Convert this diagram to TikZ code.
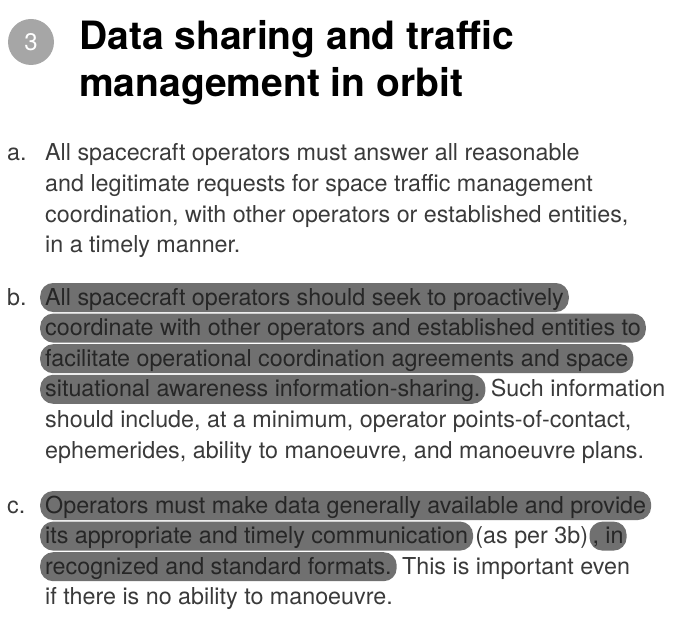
\documentclass[tikz,border=0pt]{standalone}
\usepackage{fontspec}
\setmainfont{TeX Gyre Heros}
\usepackage{tikz}
\usetikzlibrary{positioning}
\definecolor{ink}{HTML}{3A3A3A}
\definecolor{hlgray}{HTML}{707070}
\definecolor{badge}{HTML}{A6A6A6}
\tikzset{
  txt/.style={anchor=base west, inner sep=0pt, text=ink, font=\fontsize{23.3}{30}\selectfont},
  hl/.style={txt, fill=hlgray, text=black!85, rounded corners=13pt,
    text height=22pt, text depth=7pt, inner xsep=5pt, inner ysep=0pt},
  ttl/.style={anchor=base west, inner sep=0pt, font=\fontsize{39}{47}\bfseries\selectfont}
}
\begin{document}
\begin{tikzpicture}[x=1pt,y=-1pt]
  \useasboundingbox (0,0) rectangle (680,631);

  % heading
  \node[circle, fill=badge, minimum size=46pt, inner sep=0pt, text=white,
    font=\fontsize{24}{24}\selectfont] (badge) at (31,42) {3};
  \node[ttl] (title1) at (79,50) {Data sharing and traffic};
  \node[ttl] (title2) at (79,97) {management in orbit};

  % item a
  \node[txt] (la) at (7,161) {a.};
  \node[txt] (a1) at (45,161) {All spacecraft operators must answer all reasonable};
  \node[txt] (a2) at (45,191.6) {and legitimate requests for space traffic management};
  \node[txt] (a3) at (45,222.2) {coordination, with other operators or established entities,};
  \node[txt] (a4) at (45,252.8) {in a timely manner.};

  % item b
  \node[txt] (lb) at (7,305) {b.};
  \node[hl] (b1) at (40,305) {All spacecraft operators should seek to proactively};
  \node[hl] (b2) at (40,335.6) {coordinate with other operators and established entities to};
  \node[hl] (b3) at (40,366.2) {facilitate operational coordination agreements and space};
  \node[hl] (b4) at (40,396.8) {situational awareness information-sharing.};
  \node[txt] (b4r) at ([xshift=5pt]b4.base east) {Such information};
  \node[txt] (b5) at (45,427.4) {should include, at a minimum, operator points-of-contact,};
  \node[txt] (b6) at (45,458) {ephemerides, ability to manoeuvre, and manoeuvre plans.};

  % item c
  \node[txt] (lc) at (7,513) {c.};
  \node[hl] (c1) at (40,513) {Operators must make data generally available and provide};
  \node[hl] (c2) at (40,543.6) {its appropriate and timely communication};
  \node[txt] (c2m) at ([xshift=2pt]c2.base east) {(as per 3b)};
  \node[hl, inner xsep=3pt] (c2r) at ([xshift=1pt]c2m.base east) {, in};
  \node[hl] (c3) at (40,574.2) {recognized and standard formats.};
  \node[txt] (c3r) at ([xshift=5pt]c3.base east) {This is important even};
  \node[txt] (c4) at (45,604.8) {if there is no ability to manoeuvre.};
\end{tikzpicture}
\end{document}
